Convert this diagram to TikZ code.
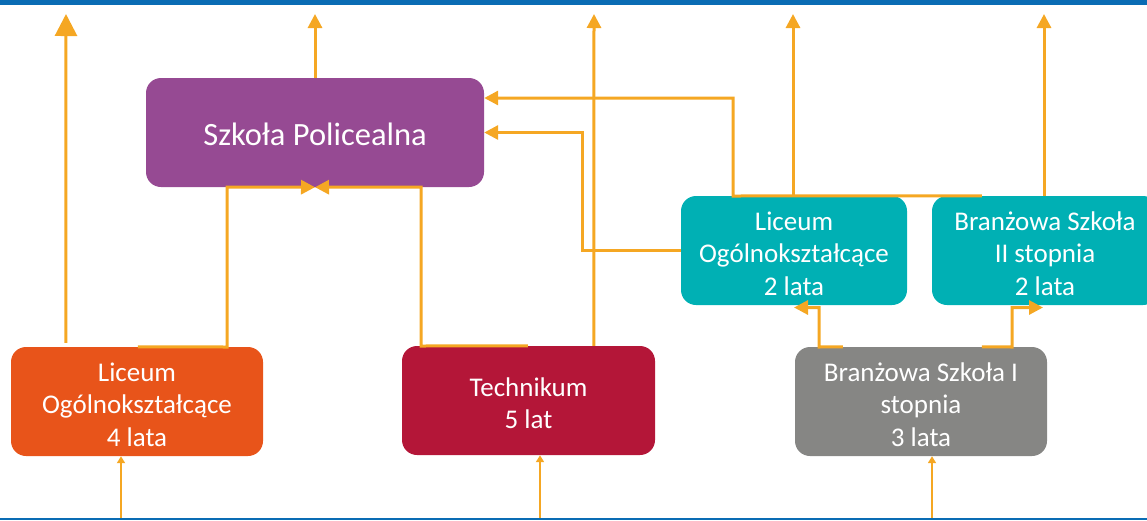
\documentclass[tikz,border=0pt]{standalone}
\usepackage{fontspec}
\setmainfont{Carlito}
\usetikzlibrary{arrows.meta,calc}
\definecolor{cpurple}{RGB}{150,74,147}
\definecolor{cteal}{RGB}{0,176,180}
\definecolor{corange}{RGB}{232,84,26}
\definecolor{ccrimson}{RGB}{180,22,56}
\definecolor{cgray}{RGB}{134,134,132}
\definecolor{carrow}{RGB}{245,167,35}
\definecolor{cblue}{RGB}{10,108,180}
\newcommand\mytstrut{\rule{0pt}{24.5pt}}
\tikzset{
  schoolbox/.style={rectangle, rounded corners=15pt, text=white, align=center,
    inner sep=0pt, font=\fontsize{27}{32.5}\selectfont},
  conn/.style={draw=carrow, line width=3pt},
  arr/.style={conn, -{Triangle[width=14pt,length=14pt]}},
  bigarr/.style={conn, -{Triangle[width=22pt,length=22pt]}},
  inarr/.style={draw=carrow, line width=2pt, -{Triangle[width=8pt,length=7pt]}},
}
\begin{document}
\begin{tikzpicture}[x=1pt,y=-1pt]
\useasboundingbox (0,0) rectangle (1147,520);
\fill[cblue] (0,0) rectangle (1147,4.5);
\fill[cblue] (0,517.5) rectangle (1147,520);

\node[schoolbox, fill=cpurple, minimum width=338pt, minimum height=109pt,
  font=\fontsize{32.5}{38}\selectfont]
  (psz) at (315,132.5) {\rule{0pt}{27pt}Szkoła Policealna};
\node[schoolbox, fill=cteal, minimum width=226pt, minimum height=109pt] (lo2) at (794,250.5)
  {\mytstrut Liceum\\Ogólnokształcące\\2 lata};
\node[schoolbox, fill=cteal, minimum width=226pt, minimum height=109pt] (bs2) at (1045,250.5)
  {\mytstrut Branżowa Szkoła\\II stopnia\\2 lata};
\node[schoolbox, fill=corange, minimum width=252pt, minimum height=109pt] (lo4) at (137,401.5)
  {\mytstrut Liceum\\Ogólnokształcące\\4 lata};
\node[schoolbox, fill=ccrimson, minimum width=253pt, minimum height=109pt] (tech) at (528.5,400.5)
  {\mytstrut Technikum\\5 lat};
\node[schoolbox, fill=cgray, minimum width=252pt, minimum height=109pt] (bs1) at (921,401.5)
  {\mytstrut Branżowa Szkoła I\\stopnia\\3 lata};

% free ends
\coordinate (t1) at (66,14);
\coordinate (t2) at (315,14);
\coordinate (t3) at (594,14);
\coordinate (t4) at (793,14);
\coordinate (t5) at (1044,14);
\coordinate (b1) at (121,518);
\coordinate (b2) at (540,518);
\coordinate (b3) at (932,518);

% upward exits
\draw[bigarr] ($(lo4.north west)+(55,-4)$) -- (t1);
\draw[arr] (psz.north) -- (t2);
\draw[arr] ($(tech.north west)+(192,0)$) -- (t3);
\draw[arr] (lo2.north -| t4) -- (t4);
\draw[arr] (bs2.north -| t5) -- (t5);

% into Szkola Policealna
\draw[arr] ($(bs2.north west)+(50,0)$) -- (733,196) -- (733,98) -- ($(psz.east)+(0,-34.5)$);
\draw[arr] (lo2.west) -- (582,250.5) -- (582,132.5) -- (psz.east);
\draw[arr] ($(lo4.north west)+(127,0)$) -- (227,347) -- (227,187) -- (psz.south);
\draw[arr] ($(tech.north west)+(126,0)$) -- (421,346) -- (421,187) -- (psz.south);

% from Branzowa I
\draw[arr] ($(bs1.north west)+(48,0)$) -- (819,347) -- (819,307.5) -- (794,307.5);
\draw[arr] ($(bs1.north west)+(187,0)$) -- (1012,347) -- (1012,307.5) -- (1043,307.5);

% entries from below
\draw[inarr] (b1) -- (b1 |- lo4.south);
\draw[inarr] (b2) -- (b2 |- tech.south);
\draw[inarr] (b3) -- (b3 |- bs1.south);
\end{tikzpicture}
\end{document}
